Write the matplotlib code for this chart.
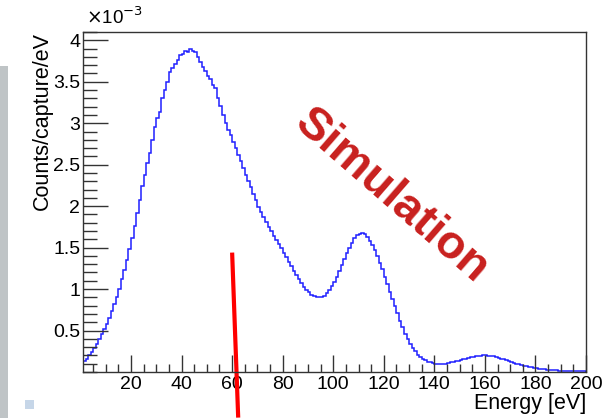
import numpy as np
import matplotlib
matplotlib.use("Agg")
import matplotlib.pyplot as plt
from matplotlib.ticker import MultipleLocator, FixedLocator
from matplotlib.patches import Rectangle

plt.rcParams['font.family'] = ['Liberation Sans', 'DejaVu Sans']

# histogram: 1 eV bins from 1 to 200 eV, values in units of 1e-3 counts/capture/eV
bin_edges = np.arange(1, 201)
counts = [
    0.13, 0.16, 0.20, 0.24, 0.29, 0.34, 0.40, 0.46, 0.52, 0.58,          # 1-10
    0.65, 0.73, 0.82, 0.91, 1.00, 1.12, 1.23, 1.35, 1.48, 1.62,          # 11-20
    1.76, 1.92, 2.08, 2.24, 2.38, 2.52, 2.64, 2.80, 2.96, 3.06,          # 21-30
    3.14, 3.30, 3.40, 3.50, 3.62, 3.66, 3.71, 3.76, 3.82, 3.84,          # 31-40
    3.87, 3.86, 3.89, 3.87, 3.86, 3.80, 3.74, 3.68, 3.63, 3.57,          # 41-50
    3.53, 3.46, 3.42, 3.30, 3.21, 3.10, 3.00, 2.92, 2.86, 2.77,          # 51-60
    2.70, 2.62, 2.55, 2.46, 2.38, 2.30, 2.23, 2.15, 2.07, 1.99,          # 61-70
    1.93, 1.87, 1.81, 1.75, 1.70, 1.64, 1.59, 1.54, 1.49, 1.44,          # 71-80
    1.39, 1.33, 1.28, 1.22, 1.17, 1.12, 1.07, 1.03, 0.99, 0.96,          # 81-90
    0.93, 0.92, 0.91, 0.90, 0.90, 0.92, 0.95, 0.99, 1.04, 1.09,          # 91-100
    1.15, 1.22, 1.29, 1.36, 1.43, 1.50, 1.56, 1.61, 1.65, 1.67,          # 101-110
    1.68, 1.66, 1.63, 1.58, 1.53, 1.47, 1.40, 1.32, 1.24, 1.15,          # 111-120
    1.06, 0.97, 0.88, 0.80, 0.71, 0.62, 0.54, 0.46, 0.40, 0.34,          # 121-130
    0.29, 0.25, 0.21, 0.18, 0.16, 0.14, 0.125, 0.115, 0.105, 0.100,      # 131-140
    0.097, 0.095, 0.095, 0.100, 0.108, 0.115, 0.122, 0.130, 0.138, 0.145,  # 141-150
    0.153, 0.162, 0.170, 0.177, 0.185, 0.190, 0.195, 0.198, 0.200, 0.200,  # 151-160
    0.198, 0.194, 0.190, 0.182, 0.172, 0.162, 0.152, 0.142, 0.132, 0.122,  # 161-170
    0.112, 0.102, 0.093, 0.085, 0.077, 0.069, 0.062, 0.055, 0.049, 0.044,  # 171-180
    0.040, 0.036, 0.032, 0.029, 0.026, 0.024, 0.022, 0.020, 0.018, 0.017,  # 181-190
    0.016, 0.015, 0.014, 0.013, 0.012, 0.012, 0.011, 0.011, 0.010,        # 191-199
]

x_ticks = [20, 40, 60, 80, 100, 120, 140, 160, 180, 200]
y_ticks = [0.5, 1, 1.5, 2, 2.5, 3, 3.5, 4]
y_tick_labels = ['0.5', '1', '1.5', '2', '2.5', '3', '3.5', '4']

# red marker line drawn over the slide (data coords, extends below the axes)
marker_x = [60.0, 62.4]
marker_y = [1.44, -0.55]

fig = plt.figure(figsize=(6.04, 4.18), dpi=100)
ax = fig.add_axes([83 / 604, 46 / 418, 503 / 604, 340 / 418])

ax.stairs(counts, bin_edges, color='#1f1fff', lw=1.1)

ax.set_xlim(1, 200)
ax.set_ylim(0, 4.1)

ax.xaxis.set_major_locator(FixedLocator(x_ticks))
ax.xaxis.set_minor_locator(MultipleLocator(5))
ax.yaxis.set_major_locator(FixedLocator(y_ticks))
ax.set_yticklabels(y_tick_labels)
ax.yaxis.set_minor_locator(MultipleLocator(0.1))

ax.tick_params(which='both', direction='in', color='#333333', width=1)
ax.tick_params(axis='x', which='major', length=12, labelsize=14, pad=3)
ax.tick_params(axis='x', which='minor', length=6)
ax.tick_params(axis='y', which='major', length=18, labelsize=14, pad=2)
ax.tick_params(axis='y', which='minor', length=10)
for s in ax.spines.values():
    s.set_color('#333333')
    s.set_linewidth(1)

ax.set_xlabel('Energy [eV]', fontsize=15.5, loc='right', labelpad=0)
ax.set_ylabel('Counts/capture/eV', fontsize=15.5, loc='top', labelpad=0)
fig.text(86 / 604, 1 - 17 / 418, r'$\times$10$^{-3}$', fontsize=13.5, va='center', ha='left')

ax.plot(marker_x, marker_y, color='#ff0000', lw=3, clip_on=False, solid_capstyle='butt')

fig.text(392 / 604, 1 - 196 / 418, 'Simulation', fontsize=34, fontweight='bold',
         color='#c8201e', rotation=-41, ha='center', va='center', rotation_mode='anchor')

# slide decorations
fig.add_artist(Rectangle((0, 0), 8 / 604, 352 / 418, transform=fig.transFigure,
                         color='#bfc4c6', lw=0))
fig.add_artist(Rectangle((25 / 604, 9 / 418), 9 / 604, 9 / 418, transform=fig.transFigure,
                         color='#c6d6e8', lw=0))

fig.savefig('out.png', dpi=100)
